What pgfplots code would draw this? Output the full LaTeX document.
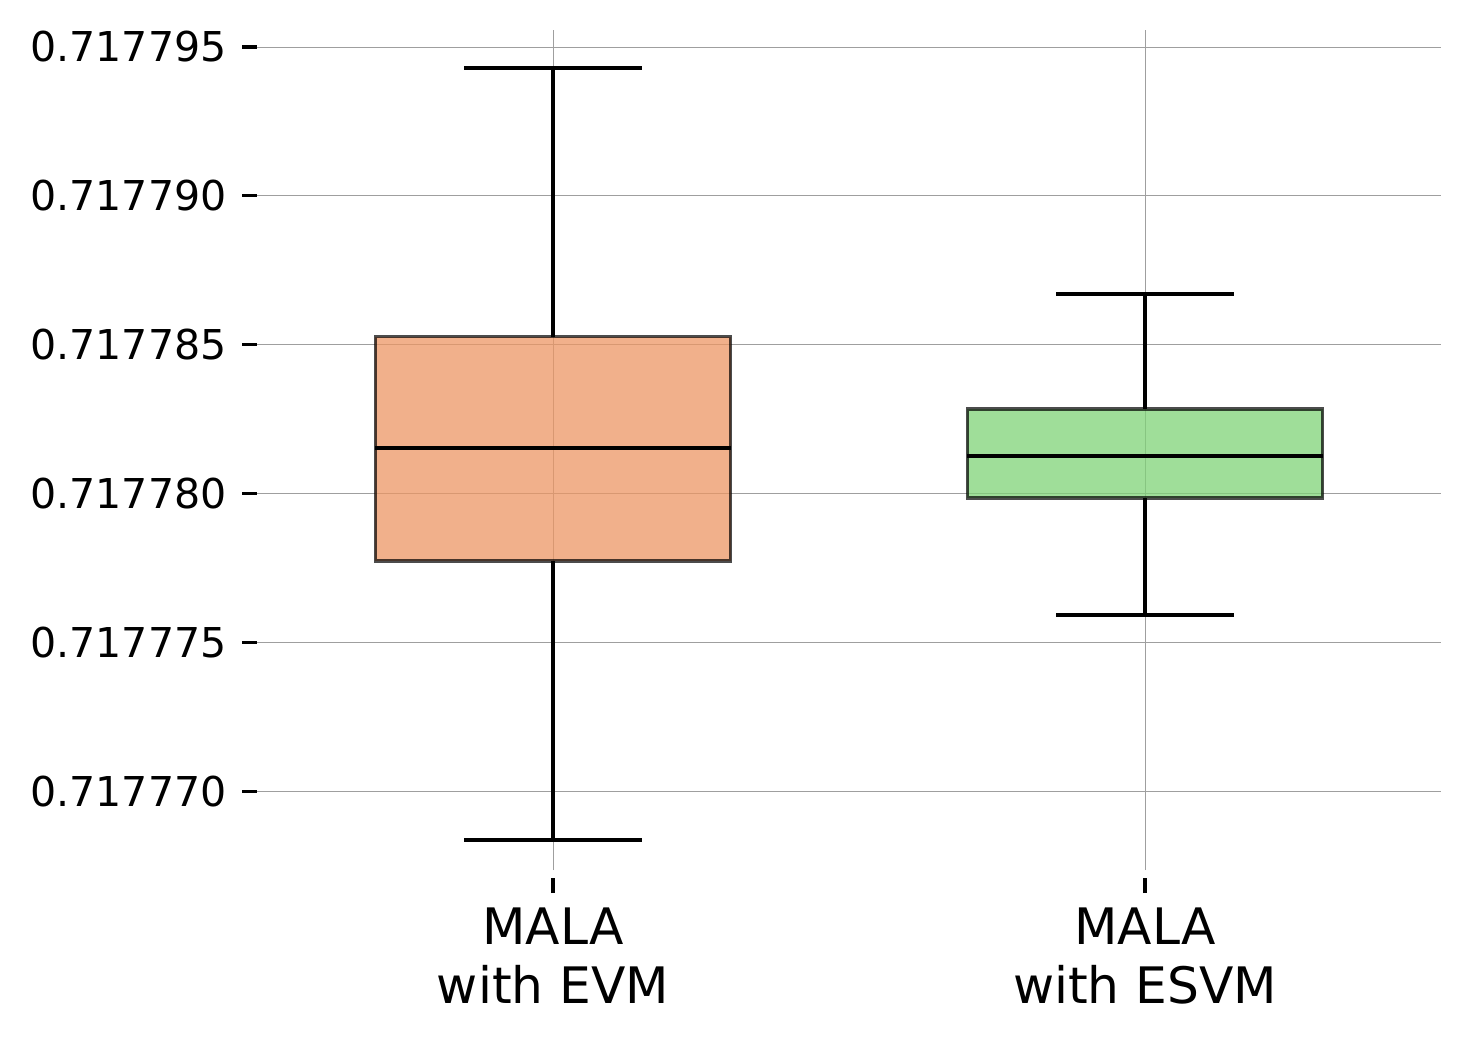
\documentclass[border=0pt]{standalone}
\usepackage{fontspec}
\setmainfont{DejaVu Sans}
\usepackage{pgfplots}
\pgfplotsset{compat=1.18}
\usepgfplotslibrary{statistics}
% fill colours chosen so that, at 0.75 opacity over white, they give the reference tints
\definecolor{boxorange}{RGB}{236,150,100}
\definecolor{boxgreen}{RGB}{127,211,119}

\begin{document}
\begin{tikzpicture}[x=1cm,y=1cm]
\path[use as bounding box] (0,0) rectangle (14.70,10.41);
% values are in units of 1e-6 above 0.717770 (pgfplots cannot resolve 7 significant digits)
\begin{axis}[
    at={(2.57cm,1.71cm)}, anchor=south west,
    scale only axis, width=11.84cm, height=8.40cm,
    xmin=0.5, xmax=2.5, ymin=-2.65, ymax=25.57,
    axis line style={draw=none},
    xtick={1,2}, xtick pos=bottom, ytick pos=left,
    xticklabels={{MALA\\with EVM},{MALA\\with ESVM}},
    ytick={0,5,10,15,20,25},
    yticklabels={0.717770,0.717775,0.717780,0.717785,0.717790,0.717795},
    tick align=outside, major tick length=0.15cm,
    tick style={black, line width=0.9pt},
    xtick style={yshift=-0.08cm},
    xticklabel style={align=center, font=\fontsize{14.3}{16.8}\selectfont, yshift=-0.1cm},
    yticklabel style={font=\fontsize{11.7}{14}\selectfont, xshift=-0.03cm},
    grid=major, major grid style={gray!75, line width=0.25pt},
    boxplot/draw direction=y,
    boxplot/box extend=0.6, boxplot/whisker extend=0.3,
    boxplot/every whisker/.style={black, draw opacity=1, line width=1.1pt},
    boxplot/every median/.style={black, draw opacity=1, line width=1.1pt},
]
\addplot+[boxplot prepared={draw position=1,
    lower whisker=-1.65, lower quartile=7.73, median=11.53,
    upper quartile=15.26, upper whisker=24.29},
    draw=black, draw opacity=0.7, line width=0.9pt,
    fill=boxorange, fill opacity=0.75, solid, mark=none]
    coordinates {};
\addplot+[boxplot prepared={draw position=2,
    lower whisker=5.91, lower quartile=9.85, median=11.26,
    upper quartile=12.84, upper whisker=16.70},
    draw=black, draw opacity=0.7, line width=0.9pt,
    fill=boxgreen, fill opacity=0.75, solid, mark=none]
    coordinates {};
\end{axis}
\end{tikzpicture}
\end{document}
